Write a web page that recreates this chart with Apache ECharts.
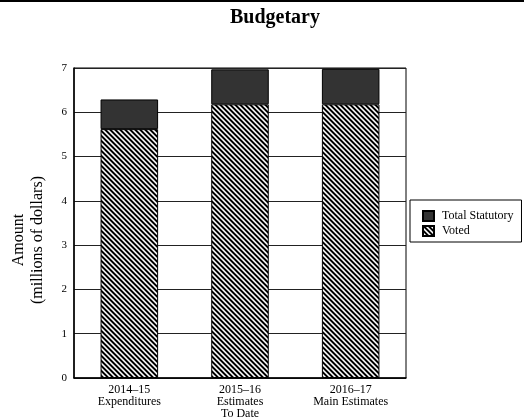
<!DOCTYPE html>
<html>
<head>
<meta charset="utf-8">
<script src="https://cdn.jsdelivr.net/npm/echarts@6/dist/echarts.min.js"></script>
<style>
  html, body { margin: 0; padding: 0; background: #fff; }
  #main { width: 524px; height: 420px; }
</style>
</head>
<body>
<div id="main"></div>
<script>
// data
var categories = ['2014–15\nExpenditures', '2015–16\nEstimates\nTo Date', '2016–17\nMain Estimates'];
var voted = [5.62, 6.18, 6.18];
var statutory = [0.67, 0.79, 0.80];
var yTicks = [0, 1, 2, 3, 4, 5, 6, 7];

// diagonal hatch for the voted part
function makeHatch() {
  var c = document.createElement('canvas');
  c.width = 5; c.height = 5;
  var ctx = c.getContext('2d');
  var shades = ['#000', '#000', '#999', '#fff', '#999'];
  for (var y = 0; y < 5; y++) {
    for (var x = 0; x < 5; x++) {
      ctx.fillStyle = shades[((x - y) % 5 + 5) % 5];
      ctx.fillRect(x, y, 1, 1);
    }
  }
  return c;
}
var hatch = { image: makeHatch(), repeat: 'repeat' };

var font = '"Liberation Serif", "Times New Roman", serif';
var chart = echarts.init(document.getElementById('main'));

var option = {
  backgroundColor: '#fff',
  animation: false,
  title: {
    text: 'Budgetary',
    left: 225,
    top: 3,
    textStyle: { fontFamily: font, fontSize: 20, fontWeight: 'bold', color: '#000' }
  },
  graphic: [
    {
      type: 'rect',
      shape: { x: 0, y: 0, width: 524, height: 2 },
      style: { fill: '#000' }
    },
    // y axis title, two centred lines
    {
      type: 'text',
      x: 19, y: 240,
      rotation: Math.PI / 2,
      style: { text: 'Amount', font: '16px ' + font, fill: '#000', align: 'center', verticalAlign: 'middle' }
    },
    {
      type: 'text',
      x: 38, y: 240,
      rotation: Math.PI / 2,
      style: { text: '(millions of dollars)', font: '16px ' + font, fill: '#000', align: 'center', verticalAlign: 'middle' }
    }
  ],
  legend: {
    orient: 'vertical',
    left: 410,
    top: 200,
    data: ['Total Statutory', 'Voted'],
    itemWidth: 11,
    itemHeight: 10,
    itemGap: 3,
    padding: [10, 8, 5, 12],
    borderColor: '#000',
    borderWidth: 1,
    icon: 'rect',
    textStyle: { fontFamily: font, fontSize: 12, color: '#000', padding: [0, 0, 0, 3] }
  },
  grid: {
    left: 74,
    right: 118,
    top: 68,
    bottom: 42,
    outerBoundsMode: 'none',
    show: true,
    borderColor: '#000',
    borderWidth: 1
  },
  xAxis: {
    type: 'category',
    data: categories,
    axisLine: { lineStyle: { color: '#000', width: 1.5 } },
    axisTick: { show: false },
    axisLabel: { fontFamily: font, fontSize: 12, color: '#000', lineHeight: 12, margin: 6 }
  },
  yAxis: {
    type: 'value',
    min: yTicks[0],
    max: yTicks[yTicks.length - 1],
    interval: 1,
    axisLine: { show: true, lineStyle: { color: '#000', width: 1.5 } },
    axisTick: { show: false },
    axisLabel: { fontFamily: font, fontSize: 11, color: '#000', margin: 7 },
    splitLine: { lineStyle: { color: '#222', width: 1 } }
  },
  series: [
    {
      name: 'Voted',
      type: 'bar',
      stack: 'total',
      barWidth: '52%',
      data: voted,
      itemStyle: { color: hatch, borderColor: '#000', borderWidth: 1 }
    },
    {
      name: 'Total Statutory',
      type: 'bar',
      stack: 'total',
      data: statutory,
      itemStyle: { color: '#333', borderColor: '#000', borderWidth: 1 }
    }
  ]
};
chart.setOption(option);
</script>
</body>
</html>
